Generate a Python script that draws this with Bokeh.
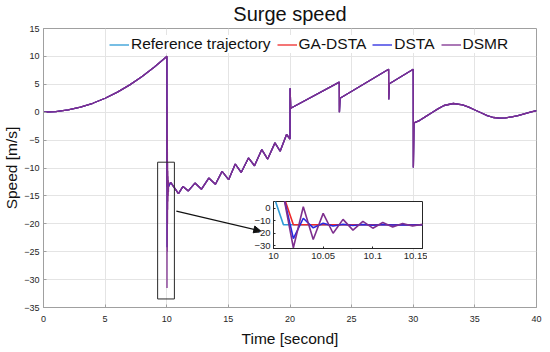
from bokeh.plotting import figure
from bokeh.models import (Range1d, FixedTicker, Legend, LegendItem,
                          Arrow, NormalHead, BoxAnnotation)
from bokeh.layouts import column
from bokeh.embed import file_html
from bokeh.resources import INLINE

# ---------------- data ----------------
series_names = ["Reference trajectory", "GA-DSTA", "DSTA", "DSMR"]
series_colors = ["#2E9BD6", "#EE2A2A", "#2828E0", "#7E2F8E"]

# 0 .. 10 s : accelerating ramp (common to all series)
t_ramp = [0, 1, 2, 3, 4, 5, 6, 7, 8, 9, 10]
v_ramp = [0.0, 0.1, 0.4, 0.9, 1.6, 2.5, 3.6, 4.9, 6.4, 8.1, 10.0]

# 10.00 .. 10.15 s : the zoomed transient
t_zoom = [10.00, 10.01, 10.02, 10.03, 10.04, 10.05, 10.06, 10.07,
          10.08, 10.09, 10.10, 10.11, 10.12, 10.13, 10.14, 10.15]
ref_zoom = [10.0, -13.3, -13.3, -13.3, -13.3, -13.3, -13.3, -13.3,
            -13.3, -13.3, -13.3, -13.3, -13.3, -13.3, -13.3, -13.3]
ga_zoom = [10.0, 10.0, -13.3, -13.3, -13.3, -13.3, -13.3, -13.3,
           -13.3, -13.3, -13.3, -13.3, -13.3, -13.3, -13.3, -13.3]
dsta_zoom = [10.0, 10.0, -24.2, -8.1, -15.7, -12.0, -14.2, -12.8,
             -13.8, -13.0, -13.6, -13.1, -13.5, -13.2, -13.4, -13.3]
dsmr_zoom = [10.0, 10.0, -31.5, 1.0, -25.0, -4.2, -20.0, -9.0,
             -17.5, -10.5, -16.0, -11.5, -15.0, -12.2, -14.3, -12.8]

# after 10.15 s : common trajectory
t_rest = [10.33, 10.95, 11.32, 11.75, 12.29, 12.82, 13.41, 13.95, 14.49,
          15.02, 15.56, 16.04, 16.63, 17.12, 17.71, 18.19, 18.78, 19.20,
          19.72, 20.00, 20.01, 20.06, 24.00, 24.01, 24.06, 28.00, 28.01,
          28.06, 30.00, 30.01, 30.06, 30.5, 31.0, 31.5, 32.0, 32.5, 33.25,
          34.0, 34.5, 35.0, 35.5, 36.0, 36.5, 37.0, 37.5, 38.0, 38.5, 39.0,
          39.5, 40.0]
v_rest = [-12.6, -14.6, -13.3, -14.1, -12.7, -13.8, -11.8, -12.9, -10.6,
          -12.1, -9.3, -10.8, -8.2, -9.6, -6.7, -8.4, -5.5, -7.0,
          -4.0, -4.8, 4.3, 0.7, 5.4, 0.0, 2.5, 7.7, 2.3,
          5.1, 7.7, -9.9, -1.9, -1.5, -0.8, -0.1, 0.6, 1.2, 1.56,
          1.3, 0.9, 0.4, -0.1, -0.6, -0.95, -1.06, -1.0, -0.85, -0.6, -0.3,
          0.0, 0.3]

zoom_series = [ref_zoom, ga_zoom, dsta_zoom, dsmr_zoom]

x_ticks = [0, 5, 10, 15, 20, 25, 30, 35, 40]
y_ticks = [-35, -30, -25, -20, -15, -10, -5, 0, 5, 10, 15]
inset_x_ticks = [10, 10.05, 10.1, 10.15]
inset_y_ticks = [-30, -20, -10, 0]

title_text = "Surge speed"
x_label = "Time [second]"
y_label = "Speed [m/s]"

# zoom box and arrow (annotation positions, data units)
ZOOM_BOX = dict(left=9.26, right=10.62, top=-8.96, bottom=-33.47)
ARROW = dict(x_start=10.78, y_start=-17.73, x_end=17.63, y_end=-21.3)

FONT = "Liberation Sans"
AX_COLOR = "#a0a0a0"
TXT_COLOR = "#262626"

# ---------------- main figure ----------------
p = figure(width=550, height=352, output_backend="svg", toolbar_location=None,
           x_range=Range1d(0, 40), y_range=Range1d(-35, 15),
           min_border_left=41, min_border_right=12,
           min_border_top=28, min_border_bottom=45,
           title=title_text, x_axis_label=x_label, y_axis_label=y_label)
p.background_fill_color = "white"
p.border_fill_color = "white"
p.outline_line_color = AX_COLOR
p.outline_line_width = 1

p.title.align = "center"
p.title.vertical_align = "top"
p.title.text_font = FONT
p.title.text_font_size = "20px"
p.title.text_font_style = "normal"
p.title.text_color = "#111111"
p.title.standoff = 4

for ax, ticks in ((p.xaxis[0], x_ticks), (p.yaxis[0], y_ticks)):
    ax.ticker = FixedTicker(ticks=ticks)
    ax.axis_line_color = AX_COLOR
    ax.major_tick_line_color = AX_COLOR
    ax.major_tick_in = 3
    ax.major_tick_out = 0
    ax.minor_tick_line_color = None
    ax.major_label_text_font = FONT
    ax.major_label_text_font_size = "9px"
    ax.major_label_text_color = TXT_COLOR
    ax.axis_label_text_font = FONT
    ax.axis_label_text_font_size = "15.5px"
    ax.axis_label_text_font_style = "normal"
    ax.axis_label_text_color = "#111111"
p.xaxis.major_label_standoff = 8
p.yaxis.major_label_standoff = 4
p.xaxis.axis_label_standoff = 5
p.yaxis.axis_label_standoff = 1

p.xgrid.ticker = FixedTicker(ticks=x_ticks)
p.ygrid.ticker = FixedTicker(ticks=y_ticks)
p.grid.grid_line_color = "#e4e4e4"
p.grid.grid_line_width = 1

renderers = []
for name, color, zs in zip(series_names, series_colors, zoom_series):
    tt = t_ramp + t_zoom[1:] + t_rest
    vv = v_ramp + zs[1:] + v_rest
    r = p.line(tt, vv, line_color=color, line_width=1.3)
    renderers.append(r)

p.add_layout(BoxAnnotation(fill_alpha=0, line_color="#2a2a2a", line_alpha=1,
                           line_width=1, level="overlay", **ZOOM_BOX))
p.add_layout(Arrow(end=NormalHead(size=7, fill_color="#111111", line_color="#111111"),
                   line_color="#111111", line_width=1.2, **ARROW))

legend = Legend(items=[LegendItem(label=n, renderers=[r])
                       for n, r in zip(series_names, renderers)],
                orientation="horizontal", location=(66, 254),
                padding=0, margin=0, spacing=6, glyph_width=20, glyph_height=15,
                label_standoff=2, label_height=15,
                label_text_font=FONT, label_text_font_size="15.5px",
                label_text_color="#111111",
                background_fill_color="white", background_fill_alpha=1,
                border_line_alpha=0)
p.add_layout(legend, "center")

# ---------------- inset ----------------
INSET_X = 230   # page offset of the inset element (left)
INSET_Y = 199   # page offset of the inset element (top)
inset = figure(frame_width=149, frame_height=47, output_backend="svg",
               toolbar_location=None,
               x_range=Range1d(10, 10.15), y_range=Range1d(-32.1, 5.2),
               min_border_left=34, min_border_right=14,
               min_border_top=2, min_border_bottom=16)
inset.background_fill_color = "white"
inset.border_fill_alpha = 0
inset.outline_line_color = "#262626"
inset.grid.grid_line_color = None
for ax, ticks in ((inset.xaxis[0], inset_x_ticks), (inset.yaxis[0], inset_y_ticks)):
    ax.ticker = FixedTicker(ticks=ticks)
    ax.axis_line_color = "#262626"
    ax.major_tick_line_color = "#262626"
    ax.major_tick_in = 2
    ax.major_tick_out = 0
    ax.minor_tick_line_color = None
    ax.major_label_text_font = FONT
    ax.major_label_text_font_size = "9.5px"
    ax.major_label_text_color = TXT_COLOR
inset.xaxis.major_label_standoff = 4
inset.yaxis.major_label_standoff = 3

for color, zs in zip(series_colors, zoom_series):
    inset.line(t_zoom, zs, line_color=color, line_width=1.6)

inset.styles = {"position": "absolute", "left": f"{INSET_X}px", "top": f"{INSET_Y}px"}

layout = column(p, inset)
open("out.html", "w").write(file_html(layout, INLINE))
